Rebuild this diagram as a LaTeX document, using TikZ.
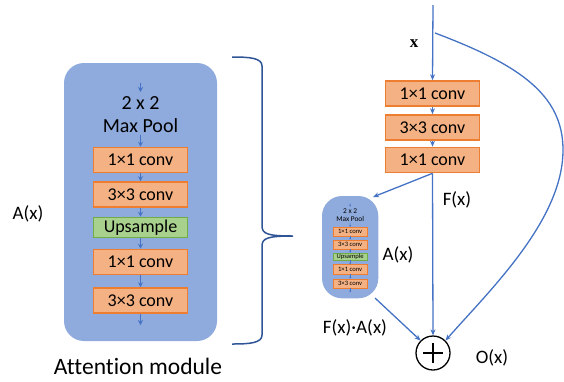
\documentclass[tikz,border=0pt]{standalone}
\usepackage{fontspec}
\setmainfont{Carlito}[Ligatures=NoCommon]
\usetikzlibrary{arrows.meta}
\definecolor{modfill}{HTML}{8FAADC}
\definecolor{orfill}{HTML}{F4B183}
\definecolor{ordraw}{HTML}{ED7D31}
\definecolor{grfill}{HTML}{A9D18E}
\definecolor{grdraw}{HTML}{70AD47}
\definecolor{lineblue}{HTML}{4472C4}
\definecolor{bracecol}{HTML}{2F5597}
\tikzset{
  convbox/.style={draw=ordraw, fill=orfill, line width=1.6pt, minimum width=94pt, minimum height=25pt, inner sep=0pt, font=\fontsize{18}{20}\selectfont},
  upbox/.style={draw=grdraw, fill=grfill, line width=1.6pt, minimum width=94pt, minimum height=20pt, inner sep=0pt, font=\fontsize{18}{20}\selectfont},
  modbg/.style={fill=modfill, rounded corners=20pt},
  flow/.style={draw=lineblue, line width=1.3pt, -{Stealth[length=6pt,width=5pt]}},
  lbl/.style={font=\fontsize{19}{21}\selectfont, inner sep=0pt},
  attmodule/.pic={
    \fill[modbg] (0,0) rectangle (153,278);
    \node[lbl, font=\fontsize{20}{22}\selectfont] (t1) at (76.5,40) {2 x 2};
    \node[lbl, font=\fontsize{20}{22}\selectfont] (t2) at (76.5,63) {Max Pool};
    \coordinate (in) at (76.5,20);
    \node[convbox, line width=1.6pt*#1] (b1) at (76.5,97) {1×1 conv};
    \node[convbox, line width=1.6pt*#1] (b2) at (76.5,131.5) {3×3 conv};
    \node[upbox, line width=1.6pt*#1] (b3) at (76.5,164.5) {Upsample};
    \node[convbox, line width=1.6pt*#1] (b4) at (76.5,199) {1×1 conv};
    \node[convbox, line width=1.6pt*#1] (b5) at (76.5,237.5) {3×3 conv};
    \coordinate (out) at (76.5,262);
    \begin{scope}[draw=lineblue, line width=1pt*#1, -{Stealth[length=5pt*#1,width=5pt*#1]}]
    \draw (in) -- (76.5,29);
    \draw (76.5,72) -- (b1.north);
    \draw (b1.south) -- (b2.north);
    \draw (b2.south) -- (b3.north);
    \draw (b3.south) -- (b4.north);
    \draw (b4.south) -- (b5.north);
    \draw (b5.south) -- (out);
    \end{scope}
  }
}
\begin{document}
\begin{tikzpicture}[x=1pt,y=-1pt]
\useasboundingbox (0,0) rectangle (564,381);
% big attention module
\pic (big) at (64,63) {attmodule=1};
\node[lbl] (ax) at (28,214) {A(x)};
\node[lbl, font=\fontsize{23.5}{26}\selectfont] (am) at (138,366) {Attention module};
% brace
\coordinate (br1) at (232,57);
\coordinate (br2) at (232,344);
\coordinate (brt) at (293,236);
\draw[bracecol, line width=1.5pt] (br1) .. controls (250,57) and (262,58) .. (262,66)
  -- (262,226) .. controls (262,234) and (268,236) .. (brt)
  .. controls (268,236) and (262,238) .. (262,246)
  -- (262,335) .. controls (262,343) and (250,344) .. (br2);
% right residual unit
\coordinate (top) at (433,5);
\coordinate (skip) at (435,33);
\coordinate (bulge) at (563,150);
\node[inner sep=0pt] (xl) at (414,44) {\fontspec{Liberation Serif}\fontsize{17}{19}\selectfont\bfseries x};
\node[convbox] (r1) at (432.5,93.5) {1×1 conv};
\node[convbox] (r2) at (432.5,127.5) {3×3 conv};
\node[convbox] (r3) at (432.5,160) {1×1 conv};
\pic[scale=0.368, transform shape] (small) at (322,196) {attmodule=0.368};
\coordinate (smalltop) at (373,197);
\coordinate (smallbot) at (375,298);
\node[circle, draw=black, line width=1.3pt, minimum size=34pt, inner sep=0pt] (plus) at (433,353) {};
\draw[line width=1.3pt] (plus.center) ++(-10,0) -- ++(20,0);
\draw[line width=1.3pt] (plus.center) ++(0,-10) -- ++(0,20);
\draw[flow] (top) -- (r1.north);
\draw[flow] (r1.south) -- (r2.north);
\draw[flow] (r2.south) -- (r3.north);
\draw[flow] (r3.south) -- (smalltop);
\draw[flow] (r3.south) -- (plus.north);
\draw[flow] (smallbot) -- (plus.north west);
\draw[flow] (skip) .. controls (520,65) and (563,95) .. (bulge)
  .. controls (563,220) and (490,290) .. (plus.north east);
\node[lbl] (fx) at (457,200) {F(x)};
\node[lbl] (ax2) at (398,255) {A(x)};
\node[lbl] (fax) at (355,328) {F(x)·A(x)};
\node[lbl] (ox) at (492,358) {O(x)};
\end{tikzpicture}
\end{document}
